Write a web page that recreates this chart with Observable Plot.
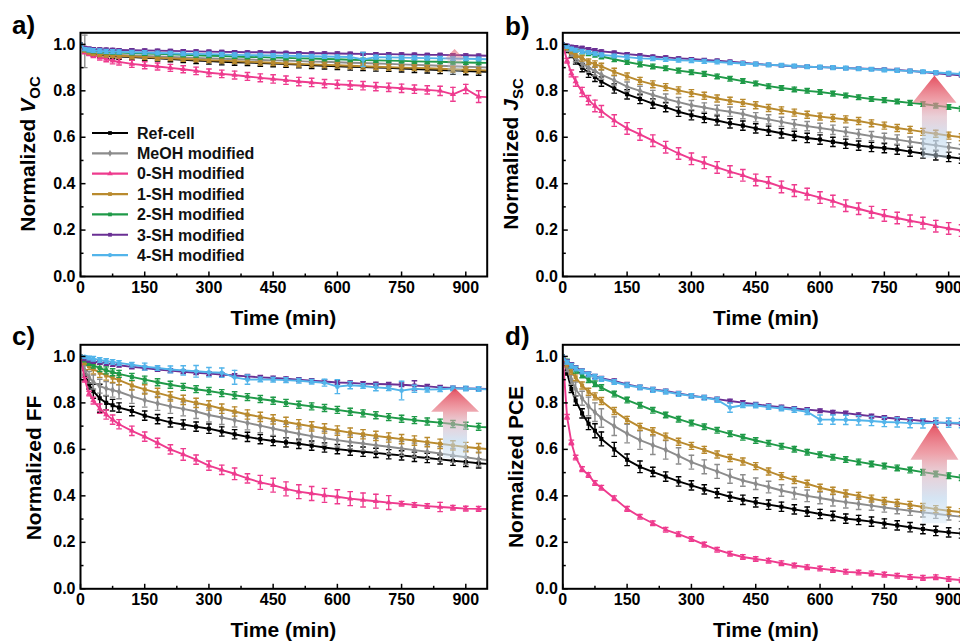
<!DOCTYPE html>
<html><head><meta charset="utf-8">
<script src="https://cdn.jsdelivr.net/npm/d3@7"></script>
<script src="https://cdn.jsdelivr.net/npm/@observablehq/plot@0.6"></script>
<style>
html,body{margin:0;padding:0;background:#fff;}
#wrap{position:relative;width:960px;height:642px;overflow:hidden;background:#fff;}
</style></head><body><div id="wrap"></div>
<script>
// ---------- data ----------
const times = [0,10,20,30,45,60,75,90,120,150,180,210,240,270,300,330,360,390,420,450,480,510,540,570,600,630,660,690,720,750,780,810,840,870,900,930,960];
const seriesNames = ["Ref-cell","MeOH modified","0-SH modified","1-SH modified","2-SH modified","3-SH modified","4-SH modified"];
const xTicks = [0,150,300,450,600,750,900];
const xMinorTicks = [75,225,375,525,675,825];
const yTicks = [0,0.2,0.4,0.6,0.8,1.0];
const yMinorTicks = [0.1,0.3,0.5,0.7,0.9];

// a) Voc
const voc_ref  = [1.0,0.975,0.965,0.96,0.955,0.952,0.95,0.948,0.945,0.942,0.94,0.937,0.934,0.93,0.928,0.925,0.923,0.922,0.92,0.918,0.915,0.913,0.91,0.908,0.906,0.904,0.902,0.9,0.899,0.896,0.894,0.892,0.89,0.887,0.885,0.883,0.881];
const voc_meoh = [1.0,0.97,0.965,0.962,0.96,0.958,0.956,0.955,0.952,0.95,0.948,0.946,0.944,0.942,0.94,0.938,0.936,0.935,0.933,0.931,0.93,0.928,0.926,0.925,0.923,0.921,0.92,0.918,0.916,0.914,0.912,0.91,0.908,0.906,0.904,0.902,0.9];
const voc_0sh  = [1.0,0.97,0.962,0.955,0.945,0.937,0.93,0.925,0.916,0.91,0.905,0.899,0.893,0.886,0.878,0.873,0.868,0.862,0.856,0.851,0.846,0.84,0.836,0.831,0.828,0.825,0.822,0.818,0.815,0.811,0.807,0.804,0.8,0.785,0.808,0.775,0.772];
const voc_1sh  = [1.0,0.975,0.968,0.963,0.958,0.955,0.953,0.951,0.948,0.945,0.942,0.94,0.937,0.935,0.932,0.93,0.928,0.925,0.923,0.921,0.918,0.916,0.914,0.912,0.91,0.908,0.906,0.904,0.902,0.9,0.899,0.897,0.895,0.893,0.891,0.889,0.887];
const voc_2sh  = [1.0,0.98,0.975,0.972,0.97,0.968,0.966,0.965,0.963,0.961,0.959,0.957,0.955,0.953,0.951,0.95,0.948,0.946,0.945,0.943,0.942,0.94,0.939,0.937,0.936,0.934,0.933,0.931,0.93,0.929,0.927,0.926,0.925,0.923,0.922,0.921,0.92];
const voc_3sh  = [1.0,0.985,0.982,0.98,0.979,0.978,0.977,0.976,0.975,0.974,0.973,0.972,0.971,0.97,0.969,0.968,0.967,0.966,0.966,0.965,0.964,0.963,0.962,0.962,0.961,0.96,0.959,0.958,0.958,0.957,0.956,0.955,0.955,0.954,0.953,0.952,0.951];
const voc_4sh  = [1.0,0.98,0.976,0.974,0.972,0.97,0.969,0.968,0.966,0.965,0.963,0.962,0.96,0.959,0.958,0.957,0.955,0.954,0.953,0.952,0.951,0.95,0.949,0.948,0.947,0.946,0.935,0.945,0.944,0.943,0.942,0.941,0.94,0.939,0.938,0.937,0.936];
const voc_ref_err  = [0,0.008,0.01,0.01,0.012,0.012,0.012,0.012,0.012,0.012,0.012,0.012,0.012,0.013,0.013,0.013,0.013,0.013,0.014,0.014,0.014,0.014,0.014,0.014,0.014,0.015,0.015,0.015,0.015,0.015,0.015,0.015,0.016,0.016,0.016,0.016,0.016];
const voc_meoh_err = [0,0.07,0.012,0.01,0.01,0.01,0.01,0.01,0.01,0.01,0.01,0.01,0.01,0.01,0.01,0.01,0.01,0.01,0.01,0.01,0.01,0.01,0.01,0.01,0.01,0.01,0.01,0.01,0.01,0.01,0.01,0.01,0.01,0.01,0.01,0.01,0.01];
const voc_0sh_err  = [0,0.01,0.01,0.012,0.012,0.012,0.014,0.014,0.015,0.015,0.015,0.015,0.015,0.016,0.016,0.016,0.017,0.017,0.017,0.018,0.018,0.018,0.018,0.018,0.018,0.018,0.018,0.018,0.018,0.018,0.018,0.018,0.02,0.03,0.02,0.025,0.02];
const voc_1sh_err  = [0,0.008,0.01,0.01,0.01,0.01,0.01,0.01,0.01,0.01,0.01,0.01,0.01,0.01,0.01,0.01,0.01,0.01,0.012,0.012,0.012,0.012,0.012,0.012,0.012,0.012,0.012,0.012,0.012,0.012,0.012,0.012,0.012,0.012,0.012,0.012,0.012];
const voc_2sh_err  = [0,0.006,0.008,0.008,0.008,0.008,0.008,0.008,0.008,0.008,0.008,0.008,0.008,0.008,0.008,0.008,0.008,0.008,0.008,0.008,0.008,0.008,0.008,0.008,0.008,0.008,0.008,0.008,0.008,0.008,0.008,0.008,0.008,0.008,0.008,0.008,0.008];
const voc_3sh_err  = [0,0.005,0.006,0.006,0.006,0.006,0.006,0.006,0.006,0.006,0.006,0.006,0.006,0.006,0.006,0.006,0.006,0.006,0.006,0.006,0.006,0.006,0.006,0.006,0.006,0.006,0.006,0.006,0.006,0.006,0.006,0.006,0.006,0.006,0.006,0.006,0.006];
const voc_4sh_err  = [0,0.006,0.008,0.008,0.008,0.008,0.008,0.008,0.008,0.008,0.008,0.008,0.008,0.008,0.008,0.008,0.008,0.008,0.008,0.008,0.008,0.008,0.008,0.008,0.008,0.008,0.03,0.008,0.008,0.008,0.008,0.008,0.008,0.008,0.008,0.008,0.008];

// b) Jsc
const jsc_ref  = [1.0,0.975,0.955,0.93,0.9,0.878,0.86,0.84,0.81,0.785,0.765,0.745,0.73,0.71,0.695,0.683,0.672,0.66,0.65,0.638,0.628,0.617,0.606,0.597,0.59,0.58,0.572,0.564,0.558,0.553,0.547,0.538,0.53,0.522,0.515,0.508,0.5];
const jsc_meoh = [1.0,0.98,0.96,0.94,0.92,0.9,0.885,0.87,0.845,0.818,0.8,0.782,0.766,0.751,0.738,0.728,0.718,0.71,0.7,0.686,0.677,0.666,0.656,0.648,0.64,0.632,0.623,0.614,0.605,0.597,0.59,0.581,0.573,0.565,0.557,0.549,0.543];
const jsc_0sh  = [1.0,0.93,0.875,0.84,0.795,0.76,0.735,0.712,0.672,0.638,0.612,0.585,0.557,0.53,0.507,0.49,0.47,0.452,0.436,0.416,0.405,0.386,0.37,0.355,0.34,0.325,0.305,0.292,0.277,0.263,0.252,0.24,0.23,0.217,0.207,0.198,0.19];
const jsc_1sh  = [1.0,0.985,0.97,0.955,0.94,0.925,0.915,0.905,0.882,0.862,0.843,0.828,0.816,0.802,0.79,0.779,0.767,0.757,0.748,0.738,0.726,0.716,0.706,0.697,0.689,0.683,0.677,0.67,0.66,0.65,0.64,0.632,0.623,0.615,0.607,0.6,0.595];
const jsc_2sh  = [1.0,0.99,0.985,0.978,0.97,0.962,0.955,0.948,0.936,0.924,0.914,0.905,0.897,0.887,0.88,0.873,0.862,0.852,0.842,0.832,0.82,0.812,0.806,0.8,0.795,0.788,0.78,0.772,0.765,0.76,0.754,0.748,0.743,0.736,0.73,0.723,0.718];
const jsc_3sh  = [1.0,0.995,0.99,0.988,0.985,0.98,0.975,0.97,0.965,0.958,0.953,0.948,0.944,0.94,0.937,0.933,0.93,0.926,0.921,0.916,0.912,0.909,0.906,0.904,0.902,0.9,0.898,0.896,0.894,0.892,0.89,0.886,0.881,0.876,0.871,0.866,0.862];
const jsc_4sh  = [1.0,0.99,0.98,0.975,0.97,0.965,0.96,0.955,0.95,0.945,0.94,0.938,0.935,0.932,0.93,0.927,0.924,0.921,0.918,0.915,0.912,0.91,0.907,0.904,0.902,0.9,0.898,0.895,0.893,0.89,0.888,0.885,0.882,0.879,0.876,0.872,0.87];
const jsc_ref_err  = [0,0.01,0.012,0.015,0.018,0.02,0.02,0.02,0.02,0.02,0.02,0.02,0.02,0.02,0.02,0.02,0.02,0.02,0.02,0.02,0.02,0.02,0.02,0.02,0.02,0.02,0.02,0.02,0.02,0.02,0.02,0.02,0.02,0.02,0.02,0.02,0.02];
const jsc_meoh_err = [0,0.01,0.012,0.015,0.018,0.02,0.02,0.02,0.02,0.02,0.02,0.02,0.02,0.02,0.02,0.02,0.02,0.02,0.02,0.02,0.02,0.02,0.02,0.02,0.02,0.02,0.02,0.02,0.02,0.02,0.02,0.02,0.02,0.02,0.02,0.02,0.02];
const jsc_0sh_err  = [0,0.01,0.015,0.02,0.02,0.02,0.025,0.025,0.025,0.025,0.025,0.025,0.025,0.025,0.025,0.025,0.025,0.025,0.025,0.025,0.025,0.025,0.025,0.025,0.025,0.025,0.025,0.025,0.025,0.025,0.025,0.025,0.025,0.025,0.025,0.025,0.025];
const jsc_1sh_err  = [0,0.008,0.01,0.012,0.012,0.012,0.014,0.014,0.015,0.015,0.015,0.015,0.015,0.015,0.015,0.015,0.015,0.015,0.015,0.015,0.015,0.015,0.015,0.015,0.015,0.015,0.015,0.015,0.015,0.015,0.015,0.015,0.015,0.015,0.015,0.015,0.015];
const jsc_2sh_err  = [0,0.006,0.008,0.01,0.01,0.01,0.01,0.01,0.01,0.01,0.01,0.01,0.01,0.01,0.01,0.01,0.01,0.01,0.01,0.01,0.01,0.01,0.01,0.01,0.01,0.01,0.01,0.01,0.01,0.01,0.01,0.01,0.01,0.01,0.01,0.01,0.01];
const jsc_3sh_err  = [0,0.005,0.006,0.006,0.006,0.006,0.006,0.006,0.006,0.006,0.006,0.006,0.006,0.006,0.006,0.006,0.006,0.006,0.006,0.006,0.006,0.006,0.006,0.006,0.006,0.006,0.006,0.006,0.006,0.006,0.006,0.006,0.006,0.006,0.006,0.006,0.006];
const jsc_4sh_err  = [0,0.006,0.008,0.008,0.008,0.008,0.008,0.008,0.008,0.008,0.008,0.008,0.008,0.008,0.008,0.008,0.008,0.008,0.008,0.008,0.008,0.008,0.008,0.008,0.008,0.008,0.008,0.008,0.008,0.008,0.008,0.008,0.008,0.008,0.008,0.008,0.008];

// c) FF
const ff_ref  = [1.0,0.92,0.88,0.85,0.82,0.8,0.79,0.78,0.765,0.745,0.73,0.716,0.707,0.698,0.689,0.677,0.665,0.654,0.644,0.636,0.63,0.624,0.616,0.608,0.601,0.595,0.59,0.585,0.579,0.574,0.568,0.563,0.557,0.551,0.546,0.54,0.536];
const ff_meoh = [1.0,0.94,0.91,0.89,0.872,0.862,0.855,0.848,0.828,0.812,0.798,0.785,0.774,0.763,0.748,0.737,0.726,0.714,0.702,0.69,0.678,0.667,0.657,0.648,0.64,0.632,0.625,0.618,0.611,0.604,0.597,0.59,0.582,0.574,0.566,0.558,0.552];
const ff_0sh  = [1.0,0.9,0.84,0.81,0.775,0.75,0.728,0.708,0.68,0.655,0.628,0.6,0.578,0.556,0.53,0.512,0.495,0.475,0.458,0.446,0.43,0.418,0.41,0.402,0.396,0.388,0.382,0.377,0.371,0.366,0.361,0.356,0.352,0.349,0.345,0.344,0.343];
const ff_1sh  = [1.0,0.975,0.958,0.945,0.93,0.918,0.908,0.898,0.875,0.858,0.843,0.828,0.813,0.8,0.789,0.775,0.763,0.75,0.74,0.729,0.718,0.708,0.699,0.69,0.681,0.672,0.665,0.658,0.651,0.644,0.638,0.631,0.624,0.617,0.61,0.605,0.6];
const ff_2sh  = [1.0,0.985,0.972,0.962,0.95,0.94,0.932,0.925,0.912,0.9,0.889,0.878,0.869,0.859,0.851,0.842,0.833,0.825,0.817,0.809,0.8,0.792,0.785,0.778,0.77,0.762,0.755,0.747,0.739,0.732,0.726,0.72,0.715,0.709,0.702,0.697,0.694];
const ff_3sh  = [1.0,0.988,0.982,0.978,0.974,0.97,0.966,0.962,0.955,0.95,0.944,0.939,0.934,0.93,0.926,0.922,0.918,0.914,0.91,0.907,0.904,0.9,0.896,0.892,0.888,0.886,0.883,0.881,0.88,0.878,0.875,0.871,0.867,0.864,0.862,0.861,0.86];
const ff_4sh  = [1.0,0.998,0.993,0.99,0.985,0.98,0.976,0.972,0.964,0.956,0.95,0.944,0.94,0.936,0.932,0.93,0.91,0.9,0.901,0.9,0.898,0.895,0.891,0.887,0.87,0.876,0.873,0.867,0.863,0.853,0.861,0.857,0.859,0.862,0.862,0.86,0.857];
const ff_ref_err  = [0,0.02,0.02,0.03,0.06,0.03,0.025,0.02,0.02,0.02,0.02,0.02,0.02,0.02,0.02,0.02,0.02,0.02,0.02,0.02,0.02,0.02,0.02,0.02,0.02,0.02,0.02,0.02,0.02,0.02,0.02,0.02,0.02,0.02,0.02,0.02,0.02];
const ff_meoh_err = [0,0.02,0.025,0.03,0.03,0.03,0.03,0.03,0.03,0.03,0.03,0.03,0.03,0.03,0.03,0.03,0.03,0.03,0.03,0.03,0.03,0.03,0.03,0.03,0.03,0.03,0.03,0.03,0.03,0.03,0.03,0.03,0.03,0.03,0.03,0.03,0.03];
const ff_0sh_err  = [0,0.01,0.01,0.015,0.02,0.02,0.02,0.02,0.02,0.02,0.02,0.02,0.025,0.02,0.02,0.02,0.025,0.02,0.03,0.03,0.03,0.03,0.03,0.03,0.03,0.03,0.03,0.03,0.03,0.01,0.01,0.01,0.02,0.01,0.01,0.01,0.01];
const ff_1sh_err  = [0,0.01,0.015,0.02,0.02,0.02,0.02,0.02,0.02,0.02,0.02,0.02,0.02,0.02,0.02,0.02,0.02,0.02,0.02,0.02,0.02,0.02,0.02,0.02,0.02,0.02,0.02,0.02,0.02,0.02,0.02,0.02,0.02,0.02,0.02,0.02,0.02];
const ff_2sh_err  = [0,0.008,0.01,0.012,0.015,0.015,0.015,0.015,0.015,0.015,0.015,0.015,0.015,0.015,0.015,0.015,0.015,0.015,0.015,0.015,0.015,0.015,0.015,0.015,0.015,0.015,0.015,0.015,0.015,0.015,0.015,0.015,0.015,0.015,0.015,0.015,0.015];
const ff_3sh_err  = [0,0.005,0.006,0.008,0.008,0.008,0.008,0.008,0.008,0.008,0.008,0.008,0.008,0.008,0.008,0.008,0.008,0.008,0.008,0.008,0.008,0.008,0.008,0.008,0.008,0.008,0.008,0.008,0.008,0.008,0.02,0.008,0.008,0.008,0.008,0.008,0.008];
const ff_4sh_err  = [0,0.005,0.008,0.01,0.01,0.01,0.01,0.01,0.01,0.015,0.01,0.015,0.02,0.025,0.02,0.02,0.03,0.02,0.01,0.01,0.01,0.01,0.01,0.015,0.03,0.015,0.01,0.015,0.01,0.04,0.015,0.01,0.01,0.01,0.01,0.01,0.01];

// d) PCE
const pce_ref  = [1.0,0.93,0.86,0.81,0.755,0.71,0.68,0.645,0.6,0.555,0.525,0.503,0.483,0.462,0.445,0.428,0.412,0.396,0.383,0.372,0.362,0.353,0.342,0.332,0.322,0.314,0.302,0.296,0.289,0.281,0.273,0.265,0.257,0.249,0.243,0.238,0.234];
const pce_meoh = [1.0,0.95,0.9,0.86,0.82,0.785,0.76,0.735,0.7,0.668,0.64,0.618,0.598,0.572,0.545,0.525,0.505,0.484,0.466,0.452,0.438,0.423,0.411,0.4,0.391,0.381,0.373,0.366,0.358,0.35,0.343,0.336,0.329,0.323,0.316,0.31,0.305];
const pce_0sh  = [1.0,0.74,0.63,0.565,0.515,0.49,0.455,0.435,0.39,0.344,0.31,0.282,0.254,0.235,0.214,0.19,0.168,0.151,0.137,0.128,0.121,0.11,0.1,0.093,0.087,0.081,0.073,0.07,0.066,0.061,0.056,0.051,0.047,0.05,0.042,0.037,0.032];
const pce_1sh  = [1.0,0.965,0.935,0.91,0.875,0.848,0.828,0.808,0.765,0.727,0.697,0.678,0.655,0.633,0.615,0.598,0.578,0.563,0.548,0.528,0.505,0.485,0.468,0.452,0.435,0.422,0.41,0.4,0.388,0.378,0.37,0.361,0.352,0.343,0.336,0.33,0.325];
const pce_2sh  = [1.0,0.98,0.96,0.94,0.92,0.9,0.882,0.866,0.838,0.812,0.79,0.768,0.748,0.73,0.713,0.697,0.682,0.667,0.652,0.638,0.626,0.613,0.601,0.588,0.577,0.566,0.556,0.546,0.537,0.528,0.52,0.511,0.502,0.494,0.486,0.478,0.472];
const pce_3sh  = [1.0,0.98,0.965,0.952,0.938,0.925,0.914,0.906,0.895,0.88,0.868,0.858,0.851,0.841,0.831,0.824,0.816,0.808,0.801,0.794,0.787,0.782,0.776,0.771,0.766,0.76,0.756,0.749,0.743,0.737,0.732,0.728,0.722,0.716,0.713,0.71,0.708];
const pce_4sh  = [1.0,0.975,0.96,0.948,0.935,0.922,0.912,0.903,0.89,0.876,0.866,0.856,0.848,0.838,0.83,0.822,0.813,0.78,0.79,0.789,0.782,0.776,0.77,0.762,0.728,0.728,0.727,0.725,0.722,0.718,0.716,0.713,0.712,0.715,0.715,0.713,0.71];
const pce_ref_err  = [0,0.01,0.015,0.02,0.02,0.025,0.03,0.03,0.03,0.025,0.025,0.02,0.02,0.02,0.02,0.02,0.02,0.02,0.02,0.02,0.02,0.02,0.02,0.02,0.02,0.02,0.02,0.02,0.02,0.02,0.02,0.02,0.02,0.02,0.02,0.02,0.02];
const pce_meoh_err = [0,0.015,0.02,0.03,0.03,0.04,0.04,0.04,0.04,0.04,0.04,0.04,0.04,0.035,0.03,0.03,0.03,0.03,0.025,0.025,0.025,0.025,0.025,0.025,0.025,0.025,0.025,0.025,0.02,0.02,0.02,0.02,0.02,0.02,0.02,0.02,0.02];
const pce_0sh_err  = [0,0.01,0.01,0.01,0.01,0.01,0.01,0.01,0.01,0.01,0.01,0.01,0.01,0.01,0.01,0.01,0.01,0.01,0.01,0.01,0.01,0.01,0.01,0.01,0.01,0.01,0.01,0.01,0.01,0.01,0.01,0.01,0.01,0.01,0.01,0.01,0.01];
const pce_1sh_err  = [0,0.01,0.012,0.015,0.015,0.015,0.015,0.015,0.015,0.015,0.015,0.015,0.015,0.015,0.015,0.015,0.015,0.015,0.015,0.015,0.015,0.015,0.015,0.015,0.015,0.015,0.015,0.015,0.015,0.015,0.015,0.015,0.015,0.015,0.015,0.015,0.015];
const pce_2sh_err  = [0,0.008,0.01,0.012,0.012,0.012,0.012,0.012,0.012,0.012,0.012,0.012,0.012,0.012,0.012,0.012,0.012,0.012,0.012,0.012,0.012,0.012,0.012,0.012,0.012,0.012,0.012,0.012,0.012,0.012,0.012,0.012,0.012,0.012,0.012,0.012,0.012];
const pce_3sh_err  = [0,0.006,0.008,0.008,0.008,0.008,0.008,0.008,0.008,0.008,0.008,0.008,0.008,0.008,0.008,0.008,0.008,0.008,0.008,0.008,0.008,0.008,0.008,0.008,0.008,0.008,0.008,0.008,0.008,0.008,0.008,0.008,0.008,0.008,0.008,0.008,0.008];
const pce_4sh_err  = [0,0.008,0.01,0.01,0.01,0.01,0.01,0.01,0.01,0.01,0.01,0.01,0.01,0.01,0.01,0.01,0.01,0.02,0.01,0.01,0.01,0.01,0.01,0.012,0.02,0.02,0.02,0.02,0.02,0.02,0.02,0.02,0.02,0.02,0.02,0.02,0.02];

// improvement arrows (time position, tip value, head-base value, tail value)
const arrowTime = [875, 868, 876, 868];
const arrowTip = [0.978, 0.864, 0.861, 0.71];
const arrowHeadBase = [0.935, 0.746, 0.76, 0.553];
const arrowTail = [0.864, 0.51, 0.56, 0.28];

// ---------- styles ----------
const seriesColors = ["#000000","#8c8c8c","#ee3b8e","#b98a2e","#1f9a48","#6a2f94","#52b4ea"];
const seriesSymbols = [d3.symbolSquare, d3.symbolDiamond, d3.symbolTriangle, d3.symbolSquare, d3.symbolSquare, d3.symbolSquare, d3.symbolCircle];
const FONT = '"Liberation Sans", Arial, Helvetica, sans-serif';

const capSymbol = {draw(c, size){const r = Math.sqrt(size/Math.PI); c.moveTo(-r,0); c.lineTo(r,0);}};
const tickUpSymbol = {draw(c, size){const r = Math.sqrt(size/Math.PI); c.moveTo(0,0); c.lineTo(0,-r);}};
const tickRightSymbol = {draw(c, size){const r = Math.sqrt(size/Math.PI); c.moveTo(0,0); c.lineTo(r,0);}};

const panels = [
  {letter:"a)", left:0, top:0, width:490, mL:80, mR:3.3, mT:32.3, mB:54,
   ylab:[["Normalized ",""],["V","italic"],["OC","sub"]], ylabX:35, ylabY:154, lx:12, ly:34,
   values:[voc_ref,voc_meoh,voc_0sh,voc_1sh,voc_2sh,voc_3sh,voc_4sh],
   errors:[voc_ref_err,voc_meoh_err,voc_0sh_err,voc_1sh_err,voc_2sh_err,voc_3sh_err,voc_4sh_err],
   arrowHalf:[10,7], arrowOpacity:0.6, legend:true},
  {letter:"b)", left:480, top:0, width:495, mL:82.3, mR:5.4, mT:32.3, mB:54,
   ylab:[["Normalized ",""],["J","italic"],["SC","sub"]], ylabX:38, ylabY:154, lx:25, ly:35,
   values:[jsc_ref,jsc_meoh,jsc_0sh,jsc_1sh,jsc_2sh,jsc_3sh,jsc_4sh],
   errors:[jsc_ref_err,jsc_meoh_err,jsc_0sh_err,jsc_1sh_err,jsc_2sh_err,jsc_3sh_err,jsc_4sh_err],
   arrowHalf:[22,12.5], arrowOpacity:1},
  {letter:"c)", left:0, top:312, width:490, mL:80, mR:3.3, mT:32.3, mB:53.7,
   ylab:[["Normalized FF",""]], ylabX:41, ylabY:156, lx:12, ly:33,
   values:[ff_ref,ff_meoh,ff_0sh,ff_1sh,ff_2sh,ff_3sh,ff_4sh],
   errors:[ff_ref_err,ff_meoh_err,ff_0sh_err,ff_1sh_err,ff_2sh_err,ff_3sh_err,ff_4sh_err],
   arrowHalf:[24,12], arrowOpacity:1},
  {letter:"d)", left:480, top:312, width:495, mL:82.3, mR:5.4, mT:32.3, mB:53.7,
   ylab:[["Normalized PCE",""]], ylabX:43, ylabY:155, lx:25, ly:33,
   values:[pce_ref,pce_meoh,pce_0sh,pce_1sh,pce_2sh,pce_3sh,pce_4sh],
   errors:[pce_ref_err,pce_meoh_err,pce_0sh_err,pce_1sh_err,pce_2sh_err,pce_3sh_err,pce_4sh_err],
   arrowHalf:[24,12.5], arrowOpacity:1}
];

const wrap = document.getElementById("wrap");

panels.forEach((p, pi) => {
  const marks = [];
  seriesNames.forEach((name, si) => {
    const rows = times.map((t, i) => ({t, v: p.values[si][i], e: p.errors[si][i]}));
    const errRows = rows.filter(r => r.e > 0);
    const col = seriesColors[si];
    marks.push(Plot.line(rows, {x:"t", y:"v", stroke: col, strokeWidth: 1.9, clip: true}));
    marks.push(Plot.ruleX(errRows, {x:"t", y1: r => r.v - r.e, y2: r => r.v + r.e, stroke: col, strokeWidth: 1.4, clip: true}));
    marks.push(Plot.dot(errRows, {x:"t", y: r => r.v - r.e, symbol: capSymbol, r: 2.8, stroke: col, strokeWidth: 1.4, fill: "none", clip: true}));
    marks.push(Plot.dot(errRows, {x:"t", y: r => r.v + r.e, symbol: capSymbol, r: 2.8, stroke: col, strokeWidth: 1.4, fill: "none", clip: true}));
    marks.push(Plot.dot(rows, {x:"t", y:"v", symbol: seriesSymbols[si], r: 2.3, fill: col, stroke: "none", clip: true}));
  });
  marks.push(Plot.dot(xTicks, {x: d => d, frameAnchor: "bottom", symbol: tickUpSymbol, r: 5, stroke: "black", strokeWidth: 1.5, fill: "none"}));
  marks.push(Plot.dot(xMinorTicks, {x: d => d, frameAnchor: "bottom", symbol: tickUpSymbol, r: 3, stroke: "black", strokeWidth: 1.5, fill: "none"}));
  marks.push(Plot.dot(yTicks, {y: d => d, frameAnchor: "left", symbol: tickRightSymbol, r: 5, stroke: "black", strokeWidth: 1.5, fill: "none"}));
  marks.push(Plot.dot(yMinorTicks, {y: d => d, frameAnchor: "left", symbol: tickRightSymbol, r: 3, stroke: "black", strokeWidth: 1.5, fill: "none"}));
  marks.push(Plot.axisX({ticks: xTicks, tickSize: 0, tickPadding: 5, label: null, fontSize: 16, fontWeight: "bold"}));
  marks.push(Plot.axisY({ticks: yTicks, tickSize: 0, tickPadding: 5, label: null, tickFormat: d3.format(".1f"), fontSize: 16, fontWeight: "bold"}));
  marks.push(Plot.frame({stroke: "black", strokeWidth: 2}));

  const plot = Plot.plot({
    width: p.width, height: 330,
    marginLeft: p.mL, marginRight: p.mR, marginTop: p.mT, marginBottom: p.mB,
    x: {domain: [0, 950]},
    y: {domain: [0, 1.05]},
    style: {fontFamily: FONT, fontSize: "16px", fontWeight: "bold", color: "black", background: "transparent", overflow: "visible", maxWidth: "none"},
    marks
  });
  plot.style.position = "absolute";
  plot.style.left = p.left + "px";
  plot.style.top = p.top + "px";
  wrap.appendChild(plot);

  const svg = d3.select(plot);
  const sx = plot.scale("x"), sy = plot.scale("y");

  // gradient arrow
  const gid = "arrowGrad" + pi;
  const grad = svg.append("defs").append("linearGradient").attr("id", gid)
    .attr("x1", 0).attr("y1", 0).attr("x2", 0).attr("y2", 1);
  const stops = [[0, "#e23c4e", 0.9], [0.3, "#e87c88", 0.72], [0.5, "#d7a9b7", 0.55], [0.75, "#b9d3eb", 0.6], [1, "#d2e6f6", 0.45]];
  stops.forEach(([o, c, a]) => grad.append("stop").attr("offset", o).attr("stop-color", c).attr("stop-opacity", a * p.arrowOpacity));
  const cx = sx.apply(arrowTime[pi]);
  const yT = sy.apply(arrowTip[pi]), yB = sy.apply(arrowHeadBase[pi]), yE = sy.apply(arrowTail[pi]);
  const [hw, sw] = p.arrowHalf;
  svg.append("path")
    .attr("d", `M${cx},${yT}L${cx+hw},${yB}L${cx+sw},${yB}L${cx+sw},${yE}L${cx-sw},${yE}L${cx-sw},${yB}L${cx-hw},${yB}Z`)
    .attr("fill", `url(#${gid})`);

  // axis titles
  const fx0 = p.mL, fx1 = p.width - p.mR;
  svg.append("text").attr("x", (fx0 + fx1) / 2).attr("y", 325).attr("text-anchor", "middle")
    .attr("font-family", FONT).attr("font-size", 21).attr("font-weight", "bold").attr("fill", "black").text("Time (min)");
  const yt = svg.append("text").attr("transform", `translate(${p.ylabX},${p.ylabY}) rotate(-90)`)
    .attr("text-anchor", "middle").attr("font-family", FONT).attr("font-size", 21).attr("font-weight", "bold").attr("fill", "black");
  p.ylab.forEach(([s, kind]) => {
    const ts = yt.append("tspan").text(s);
    if (kind === "italic") ts.attr("font-style", "italic");
    if (kind === "sub") ts.attr("font-size", 15).attr("dy", 5);
  });
  // panel letter
  svg.append("text").attr("x", p.lx).attr("y", p.ly).attr("text-anchor", "start").attr("font-family", FONT).attr("font-size", 26)
    .attr("font-weight", "bold").attr("fill", "black").text(p.letter);

  // legend
  if (p.legend) {
    const lg = svg.append("g");
    seriesNames.forEach((name, si) => {
      const y = 133 + 20.35 * si;
      lg.append("line").attr("x1", 92).attr("x2", 128).attr("y1", y).attr("y2", y)
        .attr("stroke", seriesColors[si]).attr("stroke-width", 2.2);
      lg.append("path").attr("d", d3.symbol(seriesSymbols[si], 14)()).attr("transform", `translate(110,${y})`).attr("fill", seriesColors[si]);
      lg.append("text").attr("x", 137).attr("y", y).attr("dy", "0.36em").attr("text-anchor", "start").attr("font-family", FONT)
        .attr("font-size", 16).attr("font-weight", "bold").attr("fill", "#111").text(name);
    });
  }
});
</script>
</body></html>
